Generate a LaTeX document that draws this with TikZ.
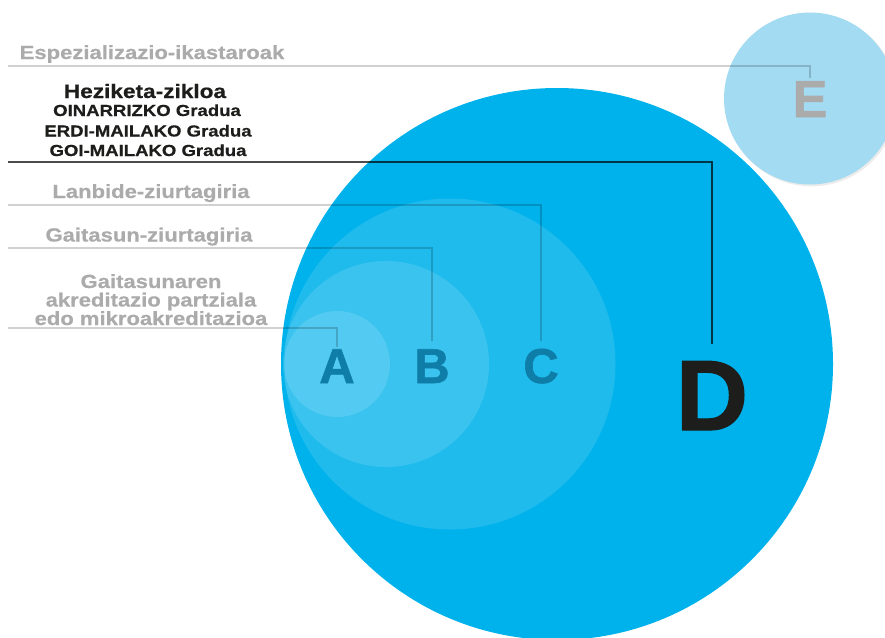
\documentclass[tikz,border=0pt]{standalone}
\usepackage{fontspec}
\setmainfont{Liberation Sans}
\newfontfamily\labfont{Liberation Sans}[FakeStretch=1.16,BoldFeatures={FakeBold=0.6}]
\newfontfamily\letfont{Liberation Sans}[BoldFeatures={FakeBold=1.2}]
\definecolor{dblue}{HTML}{00B2EB}
\definecolor{eblue}{HTML}{A3DBF3}
\definecolor{lettc}{HTML}{0E7EA8}
\definecolor{labgray}{HTML}{ABABAB}
\definecolor{darktxt}{HTML}{1D1D1B}
\tikzset{
  overlay circ/.style={fill=white,opacity=0.125},
  biglet/.style={inner sep=0pt,anchor=base,font=\letfont\bfseries\fontsize{49}{49}\selectfont,text=lettc},
  graylab/.style={inner sep=0pt,anchor=base,font=\labfont\bfseries\fontsize{19}{22}\selectfont,text=labgray},
  darklab/.style={inner sep=0pt,anchor=base,font=\labfont\bfseries\fontsize{16}{18}\selectfont,text=darktxt},
  conn/.style={draw=black,draw opacity=0.18,line width=1.3pt},
  darkconn/.style={draw=black,draw opacity=0.7,line width=1.3pt},
}
\begin{document}
\begin{tikzpicture}[x=1pt,y=-1pt]
\useasboundingbox (0,0) rectangle (885,637);
% circles
\fill[dblue] (557,364) circle (276);
\fill[overlay circ] (450,364) circle (165.5);
\fill[overlay circ] (386,364) circle (103);
\fill[overlay circ] (337,364) circle (53);
\fill[black,opacity=0.08] (811.5,100) circle (86.3);
\fill[eblue] (810,98.5) circle (86);
% letters
\node[biglet] (A) at (337,383) {A};
\node[biglet] (B) at (432,383) {B};
\node[biglet] (C) at (541,383) {C};
\node[biglet,font=\letfont\bfseries\fontsize{100}{100}\selectfont,text=darktxt] (D) at (712,430) {D};
\node[biglet,font=\letfont\bfseries\fontsize{52}{52}\selectfont,text=labgray] (E) at (810,117) {E};
% labels
\node[graylab] (lE) at (152,59) {Espezializazio-ikastaroak};
\node[darklab,font=\labfont\bfseries\fontsize{19.5}{20}\selectfont] (lD1) at (145,98) {Heziketa-zikloa};
\node[darklab] (lD2) at (147,116) {OINARRIZKO Gradua};
\node[darklab] (lD3) at (148,136.5) {ERDI-MAILAKO Gradua};
\node[darklab] (lD4) at (148,156) {GOI-MAILAKO Gradua};
\node[graylab] (lC) at (151,198) {Lanbide-ziurtagiria};
\node[graylab] (lB) at (149,241.5) {Gaitasun-ziurtagiria};
\node[graylab] (lA1) at (151,288) {Gaitasunaren};
\node[graylab] (lA2) at (151,306.5) {akreditazio partziala};
\node[graylab] (lA3) at (151,325) {edo mikroakreditazioa};
% connector start points
\coordinate (sE) at (8,66);
\coordinate (sD) at (8,162);
\coordinate (sC) at (8,205);
\coordinate (sB) at (8,248);
\coordinate (sA) at (8,328);
% connectors
\draw[conn,shorten >=3pt] (sE) -| (E.north);
\draw[darkconn,shorten >=17pt] (sD) -| (D.north);
\draw[conn,shorten >=8pt] (sC) -| (C.north);
\draw[conn,shorten >=8pt] (sB) -| (B.north);
\draw[conn,shorten >=2pt] (sA) -| (A.north);
\end{tikzpicture}
\end{document}
